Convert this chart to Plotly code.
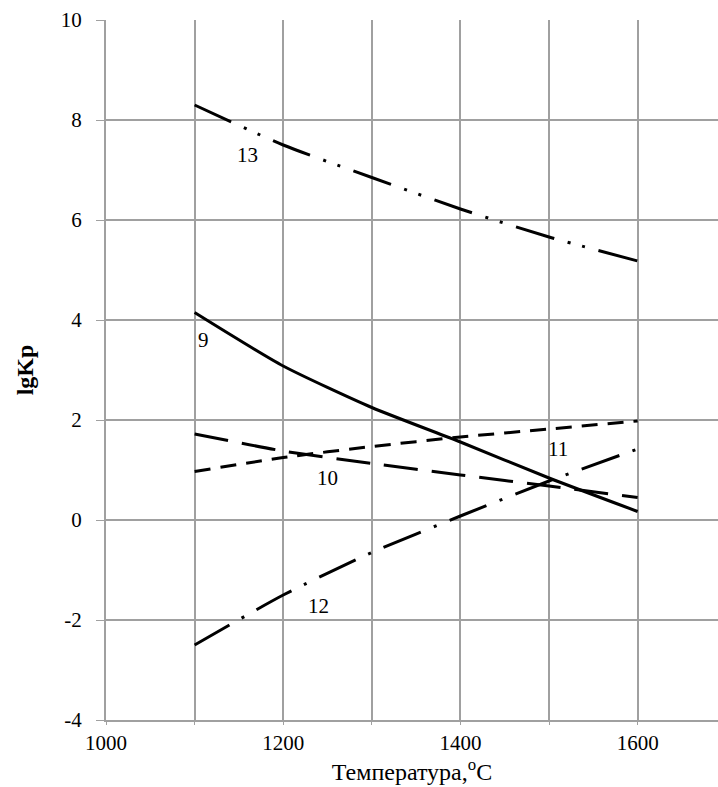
import plotly.graph_objects as go

temps = [1100, 1200, 1300, 1400, 1500, 1600]
s9 = [4.15, 3.08, 2.25, 1.56, 0.84, 0.17]
s10 = [1.72, 1.38, 1.13, 0.9, 0.68, 0.45]
s11 = [0.97, 1.25, 1.47, 1.66, 1.82, 1.98]
s12 = [-2.5, -1.5, -0.65, 0.08, 0.78, 1.42]
s13 = [8.3, 7.5, 6.85, 6.22, 5.66, 5.18]

y_ticks = [-4, -2, 0, 2, 4, 6, 8, 10]
y_ticktext = ["-4", "-2", "0", "2", "4", "6", "8", "10"]
x_ticks = [1000, 1200, 1400, 1600]

labels = ["9", "10", "11", "12", "13"]
label_x = [1110, 1250, 1510, 1240, 1160]
label_y = [3.6, 0.85, 1.42, -1.72, 7.3]

series = [s9, s10, s11, s12, s13]
dashes = ["solid", "34px,14px", "16px,10px", "40px,14px,3px,14px", "40px,14px,3px,12px,3px,14px"]

fig = go.Figure()
for ys, d in zip(series, dashes):
    fig.add_trace(go.Scatter(x=temps, y=ys, mode="lines",
                             line=dict(color="black", width=3, dash=d, shape="spline", smoothing=0.6),
                             showlegend=False, hoverinfo="skip"))

for t, lx, ly in zip(labels, label_x, label_y):
    fig.add_annotation(x=lx, y=ly, text=t, showarrow=False,
                       font=dict(family="Liberation Serif", size=21, color="black"))

fig.update_layout(
    width=718, height=787,
    margin=dict(l=106, r=0, t=20, b=67),
    plot_bgcolor="white", paper_bgcolor="white",
    font=dict(family="Liberation Serif", size=21, color="black"),
)
fig.update_xaxes(range=[1000, 1690.7], tickvals=x_ticks,
                 showgrid=True, gridcolor="#a0a0a0", gridwidth=1.5,
                 minor=dict(dtick=100, tick0=1000, showgrid=True, gridcolor="#a0a0a0", gridwidth=1.5,
                            ticks="outside", ticklen=3, tickcolor="#a0a0a0"),
                 ticks="outside", ticklen=3, tickcolor="#a0a0a0",
                 showline=True, linecolor="#a0a0a0", linewidth=2, zeroline=False,
                 title=dict(text="Температура,<sup>o</sup>C", font=dict(size=24), standoff=0))
fig.update_yaxes(range=[-4, 10], tickvals=y_ticks, ticktext=y_ticktext,
                 showgrid=True, gridcolor="#a0a0a0", gridwidth=1.5,
                 ticks="outside", ticklen=8, tickcolor="#a0a0a0", ticklabelstandoff=10,
                 showline=True, linecolor="#a0a0a0", linewidth=2, zeroline=False,
                 title=dict(text="<b>lgKp</b>", font=dict(size=24), standoff=20))

fig.write_html("out.html")
